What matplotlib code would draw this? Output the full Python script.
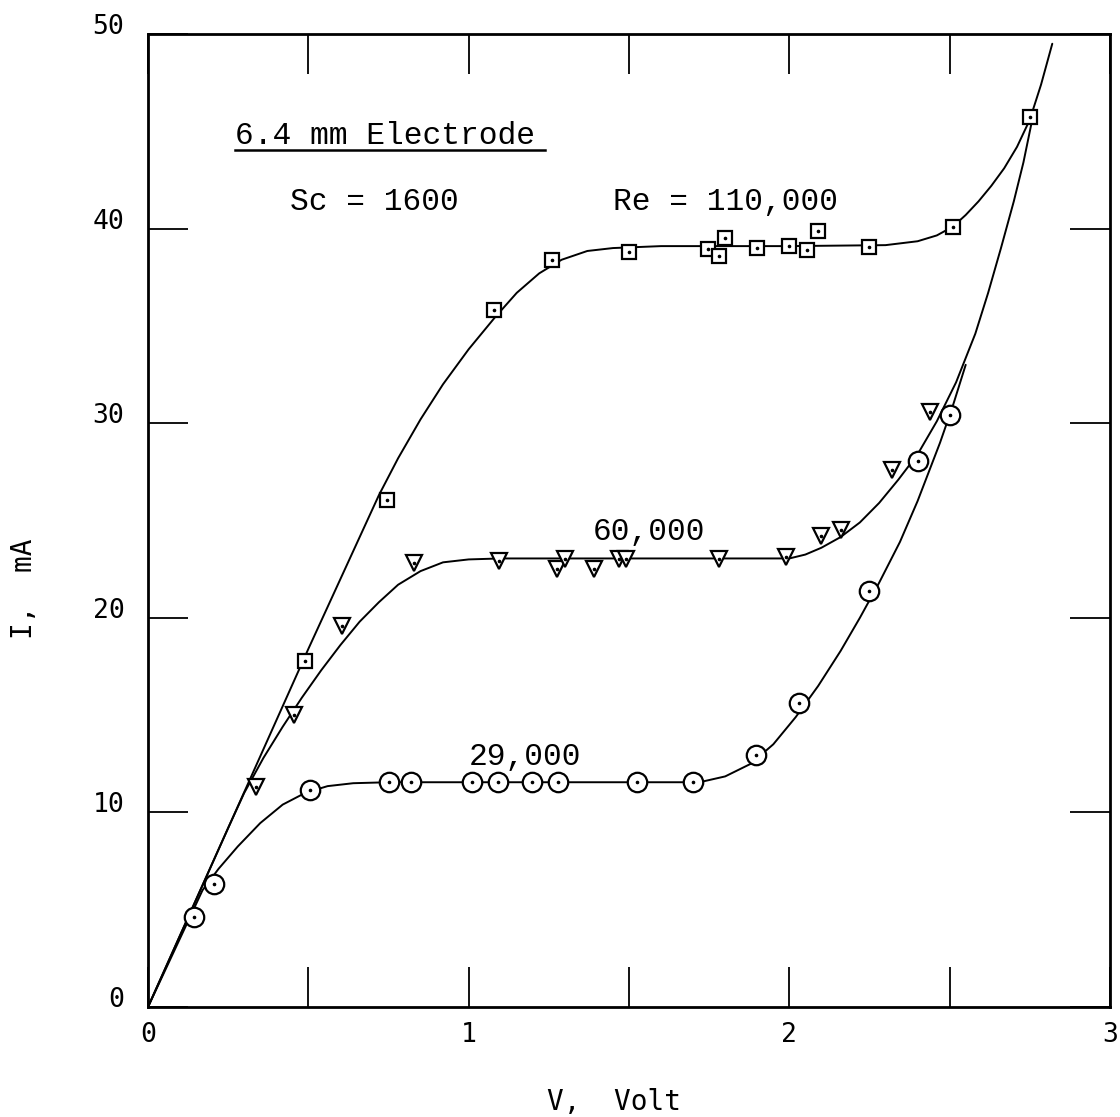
import matplotlib
matplotlib.use("Agg")
import matplotlib.pyplot as plt
from matplotlib.ticker import MultipleLocator
from matplotlib.transforms import ScaledTranslation

# measured points, I (mA) vs V (Volt)
v_110k = [0.49, 0.745, 1.08, 1.26, 1.50, 1.746, 1.78, 1.80, 1.90, 2.00, 2.055, 2.09, 2.25, 2.51, 2.75]
i_110k = [17.8, 26.05, 35.8, 38.4, 38.8, 38.95, 38.6, 39.5, 39.0, 39.1, 38.9, 39.9, 39.07, 40.1, 45.75]

v_60k = [0.336, 0.455, 0.605, 0.83, 1.096, 1.275, 1.30, 1.39, 1.47, 1.49, 1.78, 1.99, 2.10, 2.16, 2.32, 2.44]
i_60k = [11.3, 15.0, 19.6, 22.8, 22.9, 22.5, 23.0, 22.5, 23.0, 23.0, 23.0, 23.1, 24.2, 24.5, 27.6, 30.6]

v_29k = [0.144, 0.205, 0.504, 0.75, 0.82, 1.01, 1.09, 1.196, 1.28, 1.525, 1.70, 1.895, 2.03, 2.25, 2.40, 2.50]
i_29k = [4.6, 6.3, 11.17, 11.55, 11.55, 11.55, 11.55, 11.55, 11.55, 11.55, 11.55, 12.95, 15.6, 21.4, 28.07, 30.4]

# hand-faired curves through the points
cv_110k = [0.0, 0.25, 0.50, 0.72, 0.78, 0.85, 0.92, 1.00, 1.08, 1.15, 1.22, 1.29, 1.37, 1.45, 1.60,
           2.00, 2.30, 2.40, 2.46, 2.51, 2.55, 2.59, 2.63, 2.67, 2.71, 2.75, 2.785, 2.82]
ci_110k = [0.0, 9.2, 18.4, 26.3, 28.2, 30.2, 32.0, 33.8, 35.4, 36.7, 37.7, 38.4, 38.85, 39.0, 39.1,
           39.1, 39.15, 39.35, 39.65, 40.1, 40.7, 41.4, 42.2, 43.1, 44.2, 45.6, 47.4, 49.5]

cv_60k = [0.0, 0.25, 0.30, 0.36, 0.42, 0.48, 0.54, 0.60, 0.66, 0.72, 0.78, 0.85, 0.92, 1.00, 1.10,
          2.00, 2.05, 2.10, 2.16, 2.22, 2.28, 2.34, 2.40, 2.46, 2.52, 2.58, 2.62, 2.66, 2.70, 2.73, 2.755]
ci_60k = [0.0, 9.2, 11.0, 12.8, 14.4, 15.9, 17.3, 18.6, 19.8, 20.8, 21.7, 22.4, 22.85, 23.0, 23.05,
          23.05, 23.25, 23.6, 24.15, 24.9, 25.9, 27.1, 28.4, 30.1, 32.1, 34.6, 36.7, 39.0, 41.4, 43.4, 45.4]

cv_29k = [0.0, 0.17, 0.22, 0.28, 0.35, 0.42, 0.49, 0.56, 0.64, 0.75, 1.72, 1.80, 1.88, 1.95, 2.02,
          2.09, 2.16, 2.22, 2.28, 2.345, 2.40, 2.47, 2.51, 2.55]
ci_29k = [0.0, 6.0, 7.1, 8.25, 9.45, 10.4, 11.0, 11.35, 11.5, 11.55, 11.55, 11.85, 12.5, 13.5, 14.9,
          16.5, 18.3, 20.0, 21.8, 23.9, 26.0, 29.0, 30.9, 33.0]

type_font = "Liberation Mono"
tick_font = "DejaVu Sans Mono"

fig = plt.figure(figsize=(11.2, 11.17), dpi=100)
ax = fig.add_axes([148 / 1120, 1 - 1007 / 1117, 962 / 1120, 973 / 1117])

line_kw = dict(color="black", lw=1.4, solid_joinstyle="round", solid_capstyle="round")
ax.plot(cv_110k, ci_110k, **line_kw)
ax.plot(cv_60k, ci_60k, **line_kw)
ax.plot(cv_29k, ci_29k, **line_kw)

mk = dict(ls="none", mfc="white", mec="black", mew=1.6, zorder=3)
ax.plot(v_110k, i_110k, marker="s", ms=10, **mk)
ax.plot(v_60k, i_60k, marker="v", ms=11, **mk)
ax.plot(v_29k, i_29k, marker="o", ms=14, **mk)
for vv, ii in [(v_110k, i_110k), (v_60k, i_60k), (v_29k, i_29k)]:
    ax.plot(vv, ii, ls="none", marker="o", ms=1.6, color="black", zorder=4)

# annotations
ax.text(0.271, 44.35, "6.4 mm Electrode", family=type_font, fontsize=22.5, va="baseline", ha="left")
ax.plot([0.271, 1.238], [44.02, 44.02], color="black", lw=1.8)
ax.text(0.443, 40.96, "Sc = 1600", family=type_font, fontsize=22.5, va="baseline", ha="left")
ax.text(1.45, 40.96, "Re = 110,000", family=type_font, fontsize=22.5, va="baseline", ha="left")
ax.text(1.388, 24.0, "60,000", family=type_font, fontsize=22.5, va="baseline", ha="left")
ax.text(1.0, 12.44, "29,000", family=type_font, fontsize=22.5, va="baseline", ha="left")

ax.set_xlim(0, 3)
ax.set_ylim(0, 50)
ax.set_xticks([0, 1, 2, 3])
ax.xaxis.set_minor_locator(MultipleLocator(0.5))
ax.set_yticks([0, 10, 20, 30, 40, 50])
ax.tick_params(which="both", direction="in", length=28.5, width=1.3, top=True, right=True)
ax.tick_params(axis="x", pad=11, labelsize=19)
ax.tick_params(axis="y", pad=17, labelsize=19)
for lab in ax.get_xticklabels() + ax.get_yticklabels():
    lab.set_family(tick_font)
for lab in ax.get_yticklabels():
    lab.set_transform(lab.get_transform() + ScaledTranslation(0, 0.1, fig.dpi_scale_trans))

for sp in ax.spines.values():
    sp.set_linewidth(2.0)

fig.text(614 / 1120, 1 - 1102 / 1117, "V,  Volt", family=tick_font, fontsize=20, ha="center", va="center")
fig.text(24 / 1120, 1 - 589 / 1117, "I,  mA", family=tick_font, fontsize=20, ha="center", va="center",
         rotation=90)

fig.savefig("out.png", dpi=100)
